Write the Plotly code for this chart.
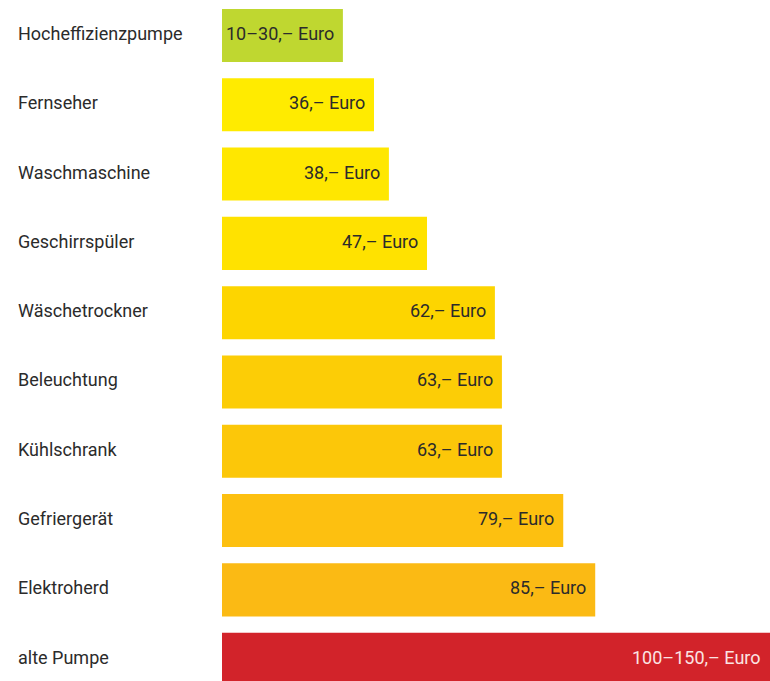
import plotly.graph_objects as go

categories = ["Hocheffizienzpumpe", "Fernseher", "Waschmaschine", "Geschirrspüler",
              "Wäschetrockner", "Beleuchtung", "Kühlschrank", "Gefriergerät",
              "Elektroherd", "alte Pumpe"]
values = [27.6, 34.7, 38.1, 46.8, 62.3, 63.9, 63.9, 77.9, 85.2, 125.1]
value_labels = ["10–30,– Euro", "36,– Euro", "38,– Euro", "47,– Euro", "62,– Euro",
                "63,– Euro", "63,– Euro", "79,– Euro", "85,– Euro", "100–150,– Euro"]
colors = ["#BFD730", "#FFEB00", "#FFE700", "#FFE200", "#FDD500",
          "#FCCD06", "#FCC709", "#FDC010", "#FBBA14", "#D2232A"]
text_colors = ["#2b2b2b"] * 9 + ["#FBE3E3"]

FONT = "Roboto"

fig = go.Figure(go.Bar(
    x=values, y=categories, orientation="h",
    marker=dict(color=colors, line=dict(width=0)),
    hoverinfo="skip",
))

annotations = []
for c, v, t, tc in zip(categories, values, value_labels, text_colors):
    annotations.append(dict(x=v, y=c, xref="x", yref="y", text=t, showarrow=False,
                            xanchor="right", xshift=-7, yshift=2,
                            font=dict(family=FONT, size=18, color=tc)))
    annotations.append(dict(x=-(222 - 16) / 548, y=c, xref="paper", yref="y", text=c,
                            showarrow=False, xanchor="left", yshift=2,
                            font=dict(family=FONT, size=18, color="#2b2b2b")))

fig.update_layout(
    width=770, height=681,
    margin=dict(l=222, r=0, t=0, b=0),
    plot_bgcolor="white", paper_bgcolor="white",
    bargap=0.235,
    showlegend=False,
    xaxis=dict(range=[0, 125.1], visible=False, fixedrange=True),
    yaxis=dict(range=[9.315, -0.512], showticklabels=False, showgrid=False,
               zeroline=False, showline=False, ticks=""),
    annotations=annotations,
)

fig.write_html("out.html", config={"displayModeBar": False},
               post_script="document.body.style.margin='0';document.body.style.overflow='hidden';")
